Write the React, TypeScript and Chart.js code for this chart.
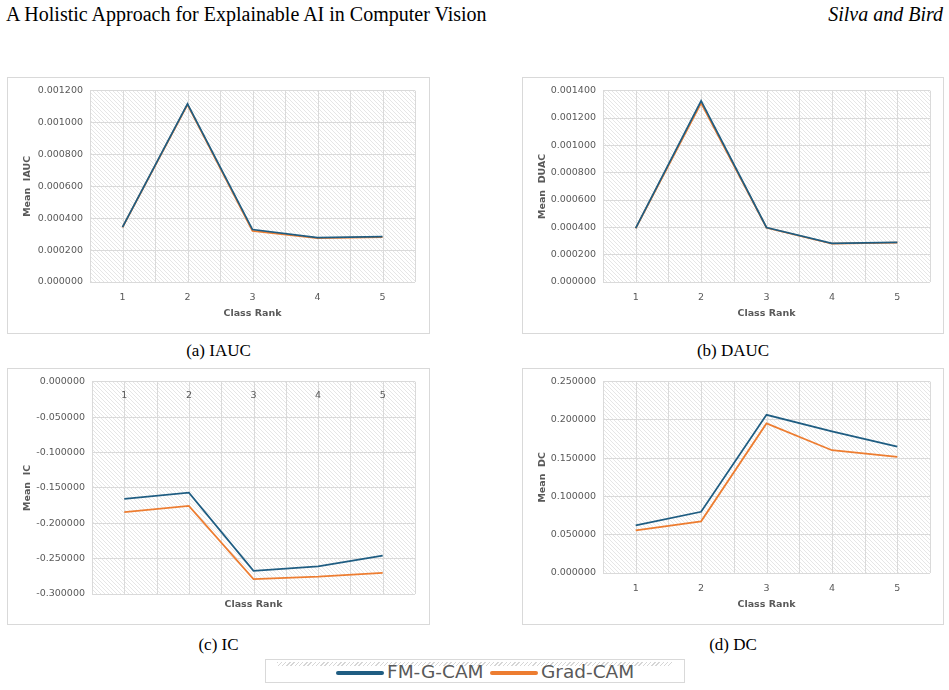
import React, { useEffect, useRef } from "react";
import { Chart, registerables } from "chart.js";

Chart.register(...registerables);

// ---------- data ----------
const classRanks = ["1", "2", "3", "4", "5"];

const iaucFmGCam = [0.000344, 0.001117, 0.000329, 0.000279, 0.000285];
const iaucGradCam = [0.000343, 0.001113, 0.000321, 0.000275, 0.000281];

const daucFmGCam = [0.000394, 0.001325, 0.000399, 0.000283, 0.00029];
const daucGradCam = [0.000393, 0.00131, 0.000397, 0.00028, 0.000288];

const icFmGCam = [-0.1657, -0.1568, -0.2672, -0.2611, -0.2457];
const icGradCam = [-0.1844, -0.1755, -0.2789, -0.2756, -0.27];

const dcFmGCam = [0.0623, 0.08, 0.2067, 0.1851, 0.1652];
const dcGradCam = [0.0558, 0.0675, 0.1955, 0.1605, 0.1518];

const seriesNames = ["FM-G-CAM", "Grad-CAM"];

// y-axis tick ranges [min, max, step]
const iaucTicks = [0, 0.0012, 0.0002];
const daucTicks = [0, 0.0014, 0.0002];
const icTicks = [-0.3, 0, 0.05];
const dcTicks = [0, 0.25, 0.05];

// ---------- styles ----------
const BLUE = "#1f5d82";
const ORANGE = "#ed7d31";
const TEXT = "#595959";
const GRID = "#dadada";
const FONT = "'DejaVu Sans', Verdana, sans-serif";
const SERIF = "'Liberation Serif', 'Times New Roman', serif";

function makeHatch(ctx: CanvasRenderingContext2D) {
  const c = document.createElement("canvas");
  c.width = 4;
  c.height = 4;
  const g = c.getContext("2d")!;
  g.fillStyle = "#ffffff";
  g.fillRect(0, 0, 4, 4);
  g.fillStyle = "#e6e6e6";
  for (let i = 0; i < 4; i++) g.fillRect(i, i, 1, 1);
  return ctx.createPattern(c, "repeat");
}

type Rect = { x: number; y: number; w: number; h: number };
type Plot = { l: number; t: number; r: number; b: number };

function ChartPanel(props: {
  panel: Rect;
  plot: Plot;
  yTitle: string;
  fm: number[];
  grad: number[];
  ticks: number[];
  labelsTop?: boolean;
}) {
  const ref = useRef<HTMLCanvasElement>(null);
  const { panel, plot, yTitle, fm, grad, ticks, labelsTop } = props;
  const innerW = panel.w - 2;
  const innerH = panel.h - 2;

  useEffect(() => {
    const canvas = ref.current!;
    const yAxisWidth = plot.l - (panel.x + 1);
    const padTop = plot.t - (panel.y + 1);
    const padRight = panel.x + 1 + innerW - plot.r;
    const xAxisHeight = panel.y + 1 + innerH - plot.b;

    const bgPlugin = {
      id: "bgHatch",
      beforeDraw(chart: any) {
        const { ctx, chartArea: a } = chart;
        const x = chart.scales.x;
        ctx.save();
        ctx.fillStyle = makeHatch(ctx);
        ctx.fillRect(a.left, a.top, a.right - a.left, a.bottom - a.top);
        ctx.strokeStyle = GRID;
        ctx.lineWidth = 1;
        const n = chart.data.labels.length;
        const step = x.getPixelForValue(1) - x.getPixelForValue(0);
        const xs: number[] = [];
        for (let i = 0; i < n; i++) {
          const c = x.getPixelForValue(i);
          xs.push(c - step / 2, c);
          if (i === n - 1) xs.push(c + step / 2);
        }
        ctx.beginPath();
        for (const px of xs) {
          const p = Math.round(px) + 0.5;
          ctx.moveTo(p, a.top);
          ctx.lineTo(p, a.bottom);
        }
        ctx.stroke();
        ctx.restore();
      },
      afterDraw(chart: any) {
        if (!labelsTop) return;
        const { ctx, chartArea: a } = chart;
        const x = chart.scales.x;
        ctx.save();
        ctx.fillStyle = TEXT;
        ctx.font = `9.5px ${FONT}`;
        ctx.textAlign = "center";
        ctx.textBaseline = "middle";
        chart.data.labels.forEach((lab: string, i: number) => {
          ctx.fillText(lab, x.getPixelForValue(i), a.top + 14);
        });
        ctx.restore();
      },
    };

    const chart = new Chart(canvas, {
      type: "line",
      data: {
        labels: classRanks,
        datasets: [
          {
            label: seriesNames[0],
            data: fm,
            borderColor: BLUE,
            backgroundColor: BLUE,
            borderWidth: 1.75,
            pointRadius: 0,
            tension: 0,
          },
          {
            label: seriesNames[1],
            data: grad,
            borderColor: ORANGE,
            backgroundColor: ORANGE,
            borderWidth: 1.75,
            pointRadius: 0,
            tension: 0,
          },
        ],
      },
      options: {
        animation: false,
        responsive: false,
        devicePixelRatio: 1,
        layout: { padding: { top: padTop, right: padRight, left: 0, bottom: 0 } },
        plugins: {
          legend: { display: false },
          tooltip: { enabled: false },
        },
        scales: {
          x: {
            type: "category",
            offset: true,
            grid: { display: false },
            border: { display: false },
            ticks: {
              display: !labelsTop,
              color: TEXT,
              font: { family: FONT, size: 9.5 },
              padding: 2,
              maxRotation: 0,
            },
            title: {
              display: true,
              text: "Class Rank",
              color: TEXT,
              font: { family: FONT, size: 9.5, weight: "bold" },
              padding: { top: 0, bottom: 14 },
            },
            afterFit(scale: any) {
              scale.height = xAxisHeight;
            },
          },
          y: {
            min: ticks[0],
            max: ticks[1],
            grid: { color: GRID, drawTicks: false, lineWidth: 1 },
            border: { display: false },
            ticks: {
              stepSize: ticks[2],
              color: TEXT,
              font: { family: FONT, size: 9.5 },
              padding: 7,
              callback: (v: any) => Number(v).toFixed(6),
            },
            title: {
              display: true,
              text: yTitle,
              color: TEXT,
              font: { family: FONT, size: 9.5, weight: "bold" },
              padding: { top: 13.5, bottom: 0 },
            },
            afterFit(scale: any) {
              scale.width = yAxisWidth;
            },
          },
        },
      },
      plugins: [bgPlugin],
    } as any);
    return () => chart.destroy();
  }, []);

  return (
    <div
      style={{
        position: "absolute",
        left: panel.x,
        top: panel.y,
        width: panel.w,
        height: panel.h,
        boxSizing: "border-box",
        border: "1px solid #d9d9d9",
        background: "#fff",
      }}
    >
      <canvas
        ref={ref}
        width={innerW}
        height={innerH}
        style={{ display: "block", width: innerW, height: innerH }}
      />
    </div>
  );
}

function Caption({ x, w, y, text }: { x: number; w: number; y: number; text: string }) {
  return (
    <div
      style={{
        position: "absolute",
        left: x,
        top: y,
        width: w,
        textAlign: "center",
        fontFamily: SERIF,
        fontSize: 17,
        lineHeight: "20px",
        color: "#000",
      }}
    >
      {text}
    </div>
  );
}

export default function App() {
  return (
    <div
      style={{
        position: "absolute",
        left: 0,
        top: 0,
        width: 949,
        height: 690,
        background: "#fff",
        overflow: "hidden",
      }}
    >
      <div
        style={{
          position: "absolute",
          left: 6,
          top: 4,
          fontFamily: SERIF,
          fontSize: 20,
          lineHeight: "20px",
          color: "#000",
          whiteSpace: "nowrap",
        }}
      >
        A Holistic Approach for Explainable AI in Computer Vision
      </div>
      <div
        style={{
          position: "absolute",
          right: 6,
          top: 4,
          fontFamily: SERIF,
          fontStyle: "italic",
          fontSize: 20,
          lineHeight: "20px",
          color: "#000",
          whiteSpace: "nowrap",
        }}
      >
        Silva and Bird
      </div>

      <ChartPanel
        panel={{ x: 7, y: 77, w: 423, h: 257 }}
        plot={{ l: 90, t: 90, r: 415, b: 282 }}
        yTitle="Mean  IAUC"
        fm={iaucFmGCam}
        grad={iaucGradCam}
        ticks={iaucTicks}
      />
      <ChartPanel
        panel={{ x: 522, y: 77, w: 422, h: 257 }}
        plot={{ l: 603, t: 89, r: 930, b: 282 }}
        yTitle="Mean  DUAC"
        fm={daucFmGCam}
        grad={daucGradCam}
        ticks={daucTicks}
      />
      <ChartPanel
        panel={{ x: 7, y: 368, w: 423, h: 257 }}
        plot={{ l: 92, t: 381, r: 415, b: 594 }}
        yTitle="Mean  IC"
        fm={icFmGCam}
        grad={icGradCam}
        ticks={icTicks}
        labelsTop
      />
      <ChartPanel
        panel={{ x: 522, y: 368, w: 422, h: 257 }}
        plot={{ l: 603, t: 380, r: 930, b: 573 }}
        yTitle="Mean  DC"
        fm={dcFmGCam}
        grad={dcGradCam}
        ticks={dcTicks}
      />

      <Caption x={7} w={423} y={341} text="(a) IAUC" />
      <Caption x={522} w={422} y={341} text="(b) DAUC" />
      <Caption x={7} w={423} y={635} text="(c) IC" />
      <Caption x={522} w={422} y={635} text="(d) DC" />

      {/* legend */}
      <div
        style={{
          position: "absolute",
          left: 265,
          top: 659,
          width: 420,
          height: 24,
          boxSizing: "border-box",
          border: "1px solid #d9d9d9",
          background: "#fff",
        }}
      >
        <div
          style={{
            position: "absolute",
            left: 11,
            top: 2,
            width: 395,
            height: 4,
            backgroundImage:
              "repeating-linear-gradient(135deg, #d6d6d6 0px, #d6d6d6 1px, #ffffff 1px, #ffffff 3px)",
          }}
        />
        <div
          style={{
            position: "absolute",
            left: 70,
            top: 11,
            width: 48,
            height: 4,
            borderRadius: 2,
            background: BLUE,
          }}
        />
        <div
          style={{
            position: "absolute",
            left: 121,
            top: 0,
            fontFamily: FONT,
            fontSize: 18.5,
            lineHeight: "24px",
            color: TEXT,
            whiteSpace: "nowrap",
          }}
        >
          {seriesNames[0]}
        </div>
        <div
          style={{
            position: "absolute",
            left: 224,
            top: 11,
            width: 48,
            height: 4,
            borderRadius: 2,
            background: ORANGE,
          }}
        />
        <div
          style={{
            position: "absolute",
            left: 275,
            top: 0,
            fontFamily: FONT,
            fontSize: 18.5,
            lineHeight: "24px",
            color: TEXT,
            whiteSpace: "nowrap",
          }}
        >
          {seriesNames[1]}
        </div>
      </div>
    </div>
  );
}
